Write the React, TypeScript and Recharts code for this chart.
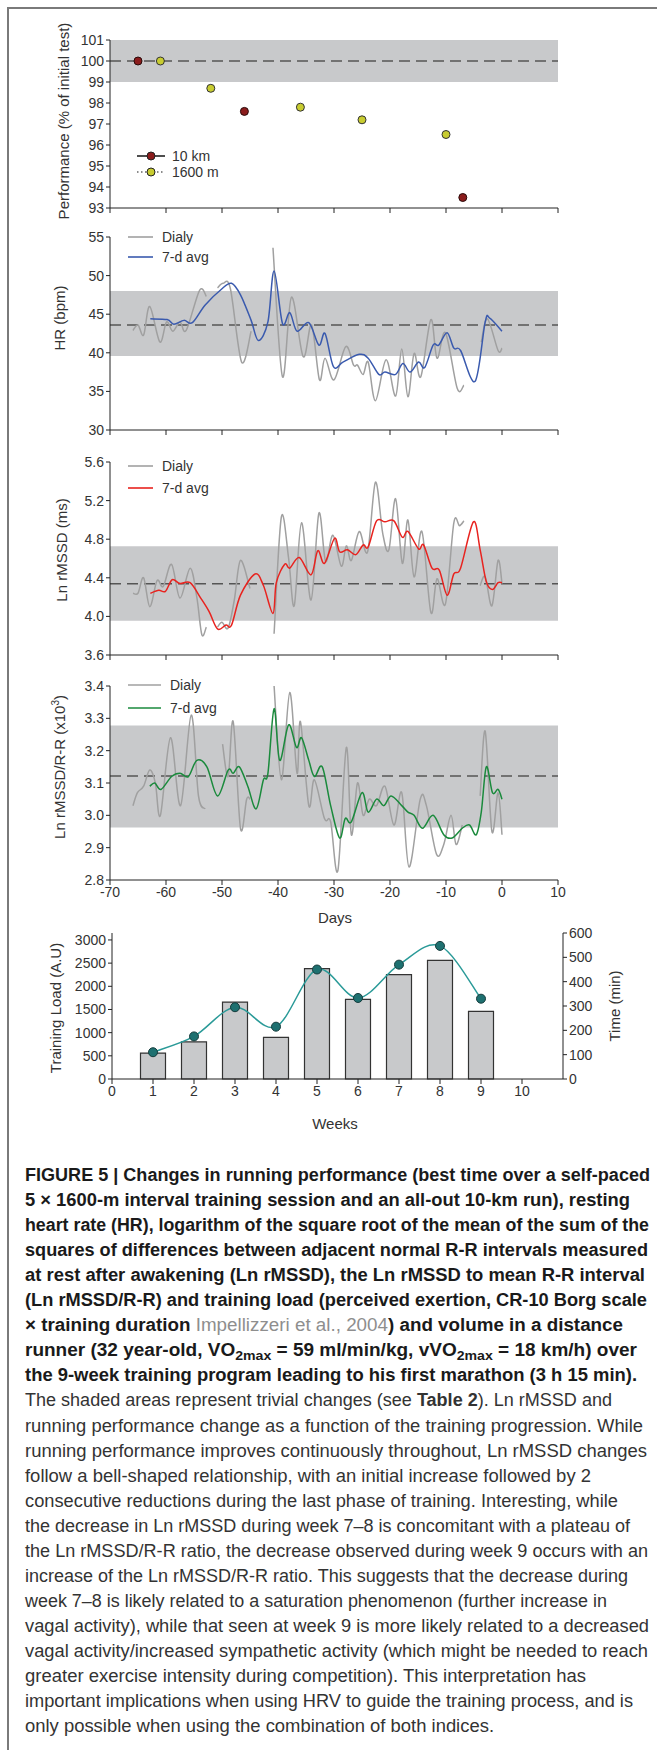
import React from 'react';
import {
  LineChart,
  Line,
  ComposedChart,
  Bar,
  XAxis,
  YAxis,
  ReferenceArea,
  ReferenceLine,
} from 'recharts';

const FONT = '"Liberation Sans", Arial, sans-serif';

const dayTicks = [-70, -60, -50, -40, -30, -20, -10, 0, 10];

// performance (% of initial test)
const km10Days = [-65, -46, -7];
const km10Perf = [100, 97.6, 93.5];
const m1600Days = [-61, -52, -36, -25, -10];
const m1600Perf = [100, 98.7, 97.8, 97.2, 96.5];

// resting HR (bpm), null = missing days
const hrDailyDays = [
  -65.9, -65.0, -64.0, -62.9, -61.1, -59.9, -58.8, -57.5, -56.4, -54.0, -52.8, -52.0,
  -50.8, -49.8, -48.5, -46.5, -44.8, -43.0, -40.9, -39.2, -37.6, -35.5, -34.0, -32.6,
  -31.6, -30.0, -27.9, -26.5, -25.8, -24.8, -23.9, -22.6, -20.7, -19.0, -17.9, -16.8,
  -15.7, -14.5, -12.7, -11.6, -10.1, -8.0, -6.8, -5.0, -3.7, -2.6, -0.7, 0,
];
const hrDaily = [
  42.9, 43.6, 42.3, 46.0, 41.4, 44.0, 42.8, 44.0, 42.9, 48.1, 47.3, null,
  48.4, 49.0, 48.3, 38.8, 42.8, null, 53.6, 36.9, 47.2, 39.5, 43.6, 36.5,
  39.3, 36.5, 40.8, 38.4, 38.4, 37.2, 38.8, 33.8, 39.1, 34.4, 40.5, 34.3,
  39.9, 36.9, 44.3, 39.3, 42.6, 35.4, 35.8, null, 41.4, 44.4, 40.3, 40.6,
];
const hrAvgDays = [
  -62.8, -59.8, -58.6, -56.8, -55.3, -53.0, -50.0, -48.3, -46.7, -44.8, -43.5, -41.8,
  -40.7, -39.2, -37.9, -36.6, -34.5, -32.7, -31.6, -30.1, -28.4, -25.5, -23.9, -22.0,
  -20.9, -19.0, -17.7, -16.4, -14.9, -13.8, -12.3, -11.3, -9.8, -8.6, -7.4, -4.8,
  -3.0, -2.2, 0,
];
const hrAvg = [
  44.4, 44.3, 43.7, 44.2, 43.9, 46.2, 48.3, 49.0, 47.5, 44.2, 41.6, 44.0,
  50.6, 43.8, 45.2, 42.8, 43.9, 41.0, 42.5, 38.2, 38.8, 39.8, 39.3, 37.2,
  37.5, 37.2, 38.6, 37.5, 38.8, 38.1, 41.0, 41.0, 42.6, 40.6, 40.3, 36.3,
  44.0, 44.5, 42.8,
];

// Ln rMSSD (ms)
const lnDailyDays = [
  -65.9, -65.0, -64.0, -62.9, -61.6, -60.5, -59.0, -57.5, -55.7, -54.5, -53.6, -52.8,
  -51.8, -50.8, -50.0, -48.9, -47.8, -46.7, -45.0, -43.0, -40.7, -39.4, -38.1, -37.1,
  -35.8, -34.1, -32.7, -31.5, -30.2, -28.7, -27.8, -26.9, -25.5, -24.0, -22.6, -21.3,
  -20.2, -19.0, -17.8, -16.8, -15.7, -14.3, -12.7, -11.6, -10.1, -8.6, -7.6, -6.8,
  -5.5, -3.9, -3.0, -1.8, -0.7, 0,
];
const lnDaily = [
  4.24, 4.24, 4.40, 4.10, 4.37, 4.31, 4.54, 4.19, 4.50, 4.20, 3.81, 3.89,
  null, 3.89, 3.94, 3.88, 4.17, 4.58, 4.29, null, 3.82, 5.03, 4.60, 4.11,
  4.97, 4.17, 5.07, 4.57, 4.84, 4.52, 4.73, 4.58, 4.88, 4.67, 5.39, 4.86,
  4.69, 5.22, 4.55, 5.00, 4.41, 4.88, 4.04, 4.39, 4.13, 4.97, 4.94, 4.99,
  null, 4.32, 4.41, 4.11, 4.58, 4.34,
];
const lnAvgDays = [
  -62.8, -61.3, -60.1, -58.9, -57.5, -55.7, -53.8, -52.3, -50.8, -49.3, -48.3, -46.7,
  -44.1, -42.6, -40.9, -40.3, -38.8, -37.9, -36.2, -34.1, -32.9, -31.7, -29.9, -29.0,
  -27.6, -26.1, -24.8, -23.9, -22.4, -20.9, -19.3, -17.8, -16.8, -14.9, -14.0, -12.5,
  -11.2, -9.8, -8.6, -7.4, -5.1, -3.9, -2.8, -1.7, -0.7, 0,
];
const lnAvg = [
  4.24, 4.27, 4.26, 4.38, 4.34, 4.35, 4.19, 4.05, 3.87, 3.91, 3.91, 4.22,
  4.44, 4.32, 4.03, 4.35, 4.54, 4.50, 4.61, 4.43, 4.68, 4.55, 4.81, 4.67,
  4.69, 4.64, 4.74, 4.72, 4.99, 4.98, 4.99, 4.82, 4.88, 4.70, 4.74, 4.50,
  4.48, 4.22, 4.44, 4.50, 4.98, 4.69, 4.36, 4.28, 4.35, 4.35,
];

// Ln rMSSD / R-R (x10^3)
const ratioDailyDays = [
  -65.9, -65.1, -64.0, -62.9, -61.9, -61.0, -59.2, -57.4, -55.5, -54.2, -53.0, -51.5,
  -49.9, -48.9, -48.0, -46.7, -45.6, -45.0, -43.0, -40.7, -39.4, -37.9, -36.6, -36.0,
  -34.5, -33.5, -31.7, -30.6, -29.3, -27.8, -26.9, -25.8, -24.8, -23.7, -22.4, -20.9,
  -19.3, -17.9, -16.6, -14.6, -13.5, -11.7, -10.4, -9.1, -8.2, -7.1, -5.5, -3.9,
  -3.0, -1.8, -0.7, 0,
];
const ratioDaily = [
  3.03, 3.07, 3.09, 3.14, 3.10, 3.00, 3.24, 3.03, 3.31, 3.06, 3.02, null,
  3.22, 3.12, 3.29, 2.96, 3.05, 3.05, null, 3.40, 3.11, 3.38, 3.13, 3.29,
  3.03, 3.11, 2.99, 2.98, 2.83, 3.21, 2.94, 3.10, 3.00, 3.05, 3.03, 3.09,
  2.97, 3.07, 2.84, 3.05, 3.03, 2.88, 2.91, 3.00, 2.91, 2.97, null, 3.06,
  3.26, 2.95, 3.07, 2.94,
];
const ratioAvgDays = [
  -62.9, -62.0, -60.9, -59.0, -57.5, -56.0, -54.5, -52.7, -50.8, -48.9, -48.0, -46.9,
  -45.4, -43.9, -42.6, -41.8, -40.7, -39.7, -38.1, -36.7, -35.8, -34.5, -33.5, -32.1,
  -30.6, -29.0, -28.0, -26.9, -25.0, -23.9, -22.4, -21.1, -19.8, -17.9, -16.8, -15.7,
  -14.2, -12.3, -10.4, -8.9, -7.1, -5.8, -4.6, -3.7, -2.8, -1.7, -0.7, 0,
];
const ratioAvg = [
  3.09, 3.10, 3.08, 3.12, 3.13, 3.12, 3.17, 3.15, 3.06, 3.14, 3.13, 3.15,
  3.09, 3.02, 3.11, 3.13, 3.33, 3.17, 3.28, 3.21, 3.24, 3.17, 3.12, 3.15,
  3.03, 2.93, 2.99, 2.98, 3.07, 3.01, 3.05, 3.03, 3.06, 3.03, 3.01, 3.00,
  2.96, 3.00, 2.94, 2.93, 2.96, 2.97, 2.94, 3.01, 3.15, 3.07, 3.08, 3.05,
];

// weekly training load (A.U) and time (min)
const weeks = [1, 2, 3, 4, 5, 6, 7, 8, 9];
const weekLoad = [560, 800, 1660, 900, 2380, 1720, 2250, 2560, 1460];
const weekTime = [110, 175, 295, 215, 450, 333, 470, 547, 330];
const weekTicks = [0, 1, 2, 3, 4, 5, 6, 7, 8, 9, 10];

const toPoints = (days: number[], vals: (number | null)[]) =>
  days.map((d, i) => ({ day: d, v: vals[i] }));

// Excel-style smoothed line (Catmull-Rom through the points)
function smoothCurve(context: any) {
  let pts: [number, number][] = [];
  return {
    areaStart() {},
    areaEnd() {},
    lineStart() {
      pts = [];
    },
    lineEnd() {
      if (!pts.length) return;
      context.moveTo(pts[0][0], pts[0][1]);
      for (let i = 0; i < pts.length - 1; i++) {
        const p0 = pts[i - 1] || pts[i];
        const p1 = pts[i];
        const p2 = pts[i + 1];
        const p3 = pts[i + 2] || p2;
        context.bezierCurveTo(
          p1[0] + (p2[0] - p0[0]) / 6,
          p1[1] + (p2[1] - p0[1]) / 6,
          p2[0] - (p3[0] - p1[0]) / 6,
          p2[1] - (p3[1] - p1[1]) / 6,
          p2[0],
          p2[1],
        );
      }
    },
    point(x: number, y: number) {
      pts.push([+x, +y]);
    },
  };
}

const tickStyle = { fill: '#333', fontSize: 14, fontFamily: FONT };
const axisStroke = { stroke: '#222', strokeWidth: 1 };

function YLabel({ x, y, children }: { x: number; y: number; children: React.ReactNode }) {
  return (
    <div
      style={{
        position: 'absolute',
        left: x,
        top: y,
        transform: 'translate(-50%, -50%) rotate(-90deg)',
        whiteSpace: 'nowrap',
        fontSize: 15,
        fontFamily: FONT,
        color: '#333',
      }}
    >
      {children}
    </div>
  );
}

function LegendRow({
  x, y, len, textX, color, label, dotted, marker,
}: {
  x: number; y: number; len: number; textX: number; color: string; label: string;
  dotted?: boolean; marker?: string;
}) {
  return (
    <>
      <svg
        style={{ position: 'absolute', left: x, top: y - 6, overflow: 'visible' }}
        width={len}
        height={12}
      >
        <line
          x1={0}
          y1={6}
          x2={len}
          y2={6}
          stroke={color}
          strokeWidth={1.6}
          strokeDasharray={dotted ? '1.5 2.5' : undefined}
        />
        {marker && <circle cx={len / 2} cy={6} r={4} fill={marker} stroke="#222" strokeWidth={1} />}
      </svg>
      <div
        style={{
          position: 'absolute',
          left: textX,
          top: y - 9,
          fontSize: 14,
          fontFamily: FONT,
          color: '#333',
          lineHeight: '18px',
          whiteSpace: 'nowrap',
        }}
      >
        {label}
      </div>
    </>
  );
}

interface DayPanelProps {
  top: number;
  height: number;
  xAxisHeight: number;
  showDayLabels?: boolean;
  domain: [number, number];
  ticks: number[];
  decimals: number;
  band: [number, number];
  mean: number;
  daily: { day: number; v: number | null }[];
  avg: { day: number; v: number | null }[];
  avgColor: string;
}

function DayPanel({
  top, height, xAxisHeight, showDayLabels, domain, ticks, decimals, band, mean, daily, avg, avgColor,
}: DayPanelProps) {
  return (
    <div style={{ position: 'absolute', left: 0, top }}>
      <LineChart width={657} height={height} margin={{ top: 10, right: 99, bottom: 0, left: 60 }}>
        <XAxis
          type="number"
          dataKey="day"
          domain={[-70, 10]}
          ticks={dayTicks}
          interval={0}
          allowDataOverflow
          height={xAxisHeight}
          tickSize={5}
          axisLine={axisStroke}
          tickLine={axisStroke}
          tick={tickStyle}
          tickFormatter={(v) => (showDayLabels ? String(v) : '')}
        />
        <YAxis
          type="number"
          domain={domain}
          ticks={ticks}
          interval={0}
          allowDataOverflow
          width={50}
          tickSize={4}
          axisLine={axisStroke}
          tickLine={axisStroke}
          tick={tickStyle}
          tickFormatter={(v) => Number(v).toFixed(decimals)}
        />
        <ReferenceArea y1={band[0]} y2={band[1]} fill="#c8c9cb" fillOpacity={1} stroke="none" />
        <ReferenceLine y={mean} stroke="#555" strokeDasharray="11 6" strokeWidth={1.5} />
        <Line
          data={daily}
          dataKey="v"
          type={smoothCurve as any}
          stroke="#a0a0a0"
          strokeWidth={1.5}
          dot={false}
          connectNulls={false}
          isAnimationActive={false}
        />
        <Line
          data={avg}
          dataKey="v"
          type={smoothCurve as any}
          stroke={avgColor}
          strokeWidth={1.5}
          dot={false}
          isAnimationActive={false}
        />
      </LineChart>
    </div>
  );
}

function PerformancePanel() {
  const km10 = toPoints(km10Days, km10Perf);
  const m1600 = toPoints(m1600Days, m1600Perf);
  return (
    <div style={{ position: 'absolute', left: 0, top: 30 }}>
      <LineChart width={657} height={190} margin={{ top: 10, right: 99, bottom: 0, left: 60 }}>
        <XAxis
          type="number"
          dataKey="day"
          domain={[-70, 10]}
          ticks={dayTicks}
          interval={0}
          height={12}
          tickSize={5}
          axisLine={axisStroke}
          tickLine={axisStroke}
          tick={tickStyle}
          tickFormatter={() => ''}
        />
        <YAxis
          type="number"
          domain={[93, 101]}
          ticks={[93, 94, 95, 96, 97, 98, 99, 100, 101]}
          interval={0}
          width={50}
          tickSize={4}
          axisLine={axisStroke}
          tickLine={axisStroke}
          tick={tickStyle}
        />
        <ReferenceArea y1={99} y2={101} fill="#c8c9cb" fillOpacity={1} stroke="none" />
        <ReferenceLine y={100} stroke="#555" strokeDasharray="11 6" strokeWidth={1.5} />
        <Line
          data={km10}
          dataKey="v"
          stroke="none"
          dot={{ r: 4, fill: '#8b1c1c', stroke: '#2a0a0a', strokeWidth: 1 }}
          isAnimationActive={false}
        />
        <Line
          data={m1600}
          dataKey="v"
          stroke="none"
          dot={{ r: 4, fill: '#c8cc30', stroke: '#333', strokeWidth: 1 }}
          isAnimationActive={false}
        />
      </LineChart>
    </div>
  );
}

function TrainingPanel() {
  const data = weeks.map((w, i) => ({ week: w, load: weekLoad[i], time: weekTime[i] }));
  return (
    <div style={{ position: 'absolute', left: 0, top: 923 }}>
      <ComposedChart width={657} height={186} data={data} margin={{ top: 10, right: 44, bottom: 0, left: 62 }}>
        <XAxis
          type="number"
          dataKey="week"
          domain={[0, 11]}
          ticks={weekTicks}
          interval={0}
          height={30}
          tickSize={5}
          axisLine={axisStroke}
          tickLine={axisStroke}
          tick={tickStyle}
        />
        <YAxis
          yAxisId="load"
          type="number"
          domain={[0, 3150]}
          ticks={[0, 500, 1000, 1500, 2000, 2500, 3000]}
          interval={0}
          width={50}
          tickSize={4}
          axisLine={axisStroke}
          tickLine={axisStroke}
          tick={tickStyle}
        />
        <YAxis
          yAxisId="time"
          orientation="right"
          type="number"
          domain={[0, 600]}
          ticks={[0, 100, 200, 300, 400, 500, 600]}
          interval={0}
          width={50}
          tickSize={4}
          axisLine={axisStroke}
          tickLine={axisStroke}
          tick={tickStyle}
        />
        <Bar
          yAxisId="load"
          dataKey="load"
          barSize={25}
          fill="#c8c9cb"
          stroke="#333"
          strokeWidth={1.2}
          isAnimationActive={false}
        />
        <Line
          yAxisId="time"
          dataKey="time"
          type={smoothCurve as any}
          stroke="#2a9a98"
          strokeWidth={1.5}
          dot={{ r: 4.5, fill: '#1e7070', stroke: '#163c3c', strokeWidth: 1 }}
          isAnimationActive={false}
        />
      </ComposedChart>
    </div>
  );
}

type Seg = string | { t: string; bold?: boolean; gray?: boolean; sub?: boolean };

const captionLines: Seg[][] = [
  ['FIGURE 5 | Changes in running performance (best time over a self-paced'],
  ['5 \u00d7 1600-m interval training session and an all-out 10-km run), resting'],
  ['heart rate (HR), logarithm of the square root of the mean of the sum of the'],
  ['squares of differences between adjacent normal R-R intervals measured'],
  ['at rest after awakening (Ln rMSSD), the Ln rMSSD to mean R-R interval'],
  ['(Ln rMSSD/R-R) and training load (perceived exertion, CR-10 Borg scale'],
  ['\u00d7 training duration ', { t: 'Impellizzeri et al., 2004', gray: true }, ') and volume in a distance'],
  [
    'runner (32 year-old, VO', { t: '2max', sub: true }, ' = 59 ml/min/kg, vVO', { t: '2max', sub: true },
    ' = 18 km/h) over',
  ],
  ['the 9-week training program leading to his first marathon (3 h 15 min).'],
  ['The shaded areas represent trivial changes (see ', { t: 'Table 2', bold: true }, '). Ln rMSSD and'],
  ['running performance change as a function of the training progression. While'],
  ['running performance improves continuously throughout, Ln rMSSD changes'],
  ['follow a bell-shaped relationship, with an initial increase followed by 2'],
  ['consecutive reductions during the last phase of training. Interesting, while'],
  ['the decrease in Ln rMSSD during week 7\u20138 is concomitant with a plateau of'],
  ['the Ln rMSSD/R-R ratio, the decrease observed during week 9 occurs with an'],
  ['increase of the Ln rMSSD/R-R ratio. This suggests that the decrease during'],
  ['week 7\u20138 is likely related to a saturation phenomenon (further increase in'],
  ['vagal activity), while that seen at week 9 is more likely related to a decreased'],
  ['vagal activity/increased sympathetic activity (which might be needed to reach'],
  ['greater exercise intensity during competition). This interpretation has'],
  ['important implications when using HRV to guide the training process, and is'],
  ['only possible when using the combination of both indices.'],
];
const captionWidths = [
  625, 605, 624, 623, 620, 622, 598, 612, 612, 587, 618, 622, 566, 593, 605, 623, 603, 582, 624, 623, 561,
  608, 469,
];
const boldLineCount = 9;

function Caption() {
  return (
    <svg style={{ position: 'absolute', left: 0, top: 1150 }} width={657} height={600}>
      {captionLines.map((segs, i) => {
        const bold = i < boldLineCount;
        let afterSub = false;
        return (
          <text
            key={i}
            x={25}
            y={31 + i * 25.05}
            textLength={captionWidths[i]}
            lengthAdjust="spacingAndGlyphs"
            fontFamily={FONT}
            fontSize={17.5}
            fontWeight={bold ? 700 : 400}
            fill={bold ? '#1a1a1a' : '#333'}
          >
            {segs.map((s, j) => {
              const seg = typeof s === 'string' ? { t: s } : s;
              const dy = seg.sub ? 4 : afterSub ? -4 : undefined;
              afterSub = !!seg.sub;
              return (
                <tspan
                  key={j}
                  dy={dy}
                  fontSize={seg.sub ? 13 : undefined}
                  fontWeight={seg.gray ? 400 : seg.bold ? 700 : undefined}
                  fill={seg.gray ? '#8e8e8e' : undefined}
                >
                  {seg.t}
                </tspan>
              );
            })}
          </text>
        );
      })}
    </svg>
  );
}

export default function App() {
  return (
    <div
      style={{
        position: 'absolute',
        left: 0,
        top: 0,
        width: 657,
        height: 1750,
        background: '#fff',
        overflow: 'hidden',
        fontFamily: FONT,
      }}
    >
      <div
        style={{
          position: 'absolute',
          left: 7,
          top: 7,
          width: 660,
          height: 1760,
          borderTop: '2px solid #7a7a7a',
          borderLeft: '2px solid #7a7a7a',
        }}
      />

      <PerformancePanel />
      <YLabel x={63} y={121}>Performance (% of initial test)</YLabel>
      <LegendRow x={137} y={156} len={28} textX={172} color="#222" label="10 km" marker="#8b1c1c" />
      <LegendRow x={137} y={172} len={28} textX={172} color="#666" label="1600 m" marker="#c8cc30" dotted />

      <DayPanel
        top={227}
        height={215}
        xAxisHeight={12}
        domain={[30, 55]}
        ticks={[30, 35, 40, 45, 50, 55]}
        decimals={0}
        band={[39.6, 48]}
        mean={43.6}
        daily={toPoints(hrDailyDays, hrDaily)}
        avg={toPoints(hrAvgDays, hrAvg)}
        avgColor="#3a5aae"
      />
      <YLabel x={59} y={318}>HR (bpm)</YLabel>
      <LegendRow x={128} y={237} len={25} textX={162} color="#a0a0a0" label="Dialy" />
      <LegendRow x={128} y={257} len={25} textX={162} color="#3a5aae" label="7-d avg" />

      <DayPanel
        top={452}
        height={215}
        xAxisHeight={12}
        domain={[3.6, 5.6]}
        ticks={[3.6, 4.0, 4.4, 4.8, 5.2, 5.6]}
        decimals={1}
        band={[3.955, 4.728]}
        mean={4.338}
        daily={toPoints(lnDailyDays, lnDaily)}
        avg={toPoints(lnAvgDays, lnAvg)}
        avgColor="#e8231f"
      />
      <YLabel x={61} y={550}>Ln rMSSD (ms)</YLabel>
      <LegendRow x={128} y={466} len={25} textX={162} color="#a0a0a0" label="Dialy" />
      <LegendRow x={128} y={488} len={25} textX={162} color="#e8231f" label="7-d avg" />

      <DayPanel
        top={676}
        height={234}
        xAxisHeight={30}
        showDayLabels
        domain={[2.8, 3.4]}
        ticks={[2.8, 2.9, 3.0, 3.1, 3.2, 3.3, 3.4]}
        decimals={1}
        band={[2.962, 3.278]}
        mean={3.122}
        daily={toPoints(ratioDailyDays, ratioDaily)}
        avg={toPoints(ratioAvgDays, ratioAvg)}
        avgColor="#1a8a3c"
      />
      <YLabel x={59} y={767}>
        Ln rMSSD/R-R (x10<sup style={{ fontSize: 10 }}>3</sup>)
      </YLabel>
      <LegendRow x={128} y={685} len={33} textX={170} color="#a0a0a0" label="Dialy" />
      <LegendRow x={128} y={708} len={33} textX={170} color="#1a8a3c" label="7-d avg" />
      <div style={{ position: 'absolute', left: 335, top: 917, transform: 'translate(-50%, -50%)', fontSize: 15, color: '#333' }}>
        Days
      </div>

      <TrainingPanel />
      <YLabel x={55} y={1008}>Training Load (A.U)</YLabel>
      <YLabel x={614} y={1006}>Time (min)</YLabel>
      <div style={{ position: 'absolute', left: 335, top: 1123, transform: 'translate(-50%, -50%)', fontSize: 15, color: '#333' }}>
        Weeks
      </div>

      <Caption />
    </div>
  );
}
